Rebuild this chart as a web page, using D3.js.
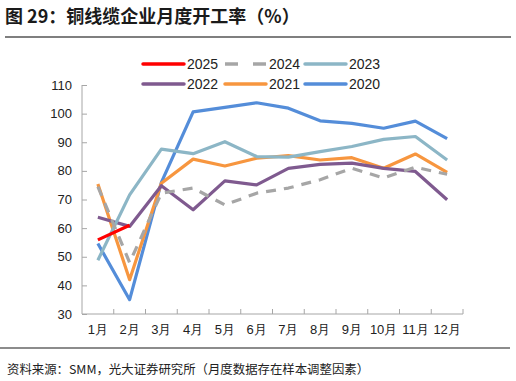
<!DOCTYPE html>
<html lang="zh">
<head>
<meta charset="UTF-8">
<script src="https://d3js.org/d3.v7.min.js"></script>
<style>
  body { margin: 0; background: #fff; }
  svg { display: block; }
</style>
</head>
<body>
<svg id="chart" width="516" height="381"></svg>
<script>
// data
const months = ["1月", "2月", "3月", "4月", "5月", "6月", "7月", "8月", "9月", "10月", "11月", "12月"];
const yTicks = [30, 40, 50, 60, 70, 80, 90, 100, 110];

const y2025 = [55.9, 61.0];
const y2024 = [74.5, 48.0, 72.2, 74.0, 68.1, 72.2, 74.0, 76.9, 80.9, 77.5, 81.3, 78.8];
const y2023 = [48.8, 71.6, 87.6, 86.0, 90.2, 85.0, 84.8, 86.7, 88.5, 91.0, 92.0, 83.8];
const y2022 = [63.8, 60.6, 74.8, 66.4, 76.5, 75.1, 80.9, 82.3, 82.7, 80.9, 79.8, 69.9];
const y2021 = [75.4, 42.0, 75.7, 84.1, 81.7, 84.4, 85.3, 83.8, 84.6, 80.9, 85.9, 79.5];
const y2020 = [54.6, 35.0, 76.0, 100.6, 102.2, 103.8, 101.9, 97.5, 96.6, 94.9, 97.4, 91.3];

const series = [
  { name: "2025", values: y2025, color: "#ff0000", dash: null },
  { name: "2024", values: y2024, color: "#a6a6a6", dash: "10,8" },
  { name: "2023", values: y2023, color: "#8cb6c6", dash: null },
  { name: "2022", values: y2022, color: "#7f5a8f", dash: null },
  { name: "2021", values: y2021, color: "#f7963f", dash: null },
  { name: "2020", values: y2020, color: "#548dd9", dash: null }
];

const svg = d3.select("#chart");
const latin = "'Liberation Sans', Arial, sans-serif";
const cjk = "'Noto Sans CJK SC', 'Noto Sans', sans-serif";

// title and rules
svg.append("text")
  .attr("x", 5).attr("y", 23)
  .attr("font-family", cjk).attr("font-weight", "bold").attr("font-size", 18)
  .attr("fill", "#1a1a1a")
  .text("图 29：铜线缆企业月度开工率（%）");
svg.append("line").attr("x1", 5).attr("x2", 511).attr("y1", 37).attr("y2", 37)
  .attr("stroke", "#555").attr("stroke-width", 1.5);
svg.append("line").attr("x1", 0).attr("x2", 510).attr("y1", 348).attr("y2", 348)
  .attr("stroke", "#666").attr("stroke-width", 1.5);
svg.append("text")
  .attr("x", 7).attr("y", 374)
  .attr("font-family", cjk).attr("font-size", 12.4)
  .attr("fill", "#222")
  .text("资料来源：SMM，光大证券研究所（月度数据存在样本调整因素）");

// scales
const x = d3.scaleBand().domain(months).range([82, 463]);
const y = d3.scaleLinear().domain([30, 110]).range([314, 85]);
const xc = m => x(m) + x.bandwidth() / 2;

// axes
const axisColor = "#a6a6a6";
const yAxis = svg.append("g").attr("transform", "translate(82,0)")
  .call(d3.axisRight(y).tickValues(yTicks).tickSize(5).tickFormat(""));
yAxis.selectAll("path, line").attr("stroke", axisColor);
yAxis.select(".domain").attr("d", `M0,${y(110)}V${y(30)}`);

svg.selectAll(".ylab").data(yTicks).enter().append("text")
  .attr("class", "ylab")
  .attr("x", 72).attr("y", d => y(d) + 4.5)
  .attr("text-anchor", "end")
  .attr("font-family", latin).attr("font-size", 13).attr("fill", "#222")
  .text(d => d);

const xAxis = svg.append("g").attr("transform", `translate(0,${y(30)})`)
  .call(d3.axisTop(x).tickSize(0).tickFormat(""));
xAxis.select(".domain").attr("stroke", axisColor).attr("d", "M82,0H463");
const bounds = months.map(m => x(m) + x.bandwidth());
xAxis.selectAll(".btick").data(bounds).enter().append("line")
  .attr("class", "btick")
  .attr("x1", d => d).attr("x2", d => d).attr("y1", 0).attr("y2", -5)
  .attr("stroke", axisColor);

svg.selectAll(".xlab").data(months).enter().append("text")
  .attr("class", "xlab")
  .attr("x", d => xc(d)).attr("y", 334)
  .attr("text-anchor", "middle")
  .attr("font-family", latin).attr("font-size", 13).attr("fill", "#222")
  .text(d => d);

// lines, drawn 2020 first so 2025 sits on top
const line = d3.line()
  .x((d, i) => xc(months[i]))
  .y(d => y(d));

series.slice().reverse().forEach(s => {
  svg.append("path")
    .datum(s.values)
    .attr("d", line)
    .attr("fill", "none")
    .attr("stroke", s.color)
    .attr("stroke-width", 3.2)
    .attr("stroke-linejoin", "round")
    .attr("stroke-dasharray", s.dash);
});

// legend
const legX = [143, 225, 305];
const legY = [64, 84];
const leg = svg.selectAll(".leg").data(series).enter().append("g")
  .attr("class", "leg")
  .attr("transform", (d, i) => `translate(${legX[i % 3]},${legY[Math.floor(i / 3)]})`);
leg.append("line")
  .attr("x1", 0).attr("x2", 41).attr("y1", 0).attr("y2", 0)
  .attr("stroke", d => d.color).attr("stroke-width", 3.5)
  .attr("stroke-linecap", d => d.dash ? "butt" : "round")
  .attr("stroke-dasharray", d => d.dash ? "13,15" : null);
leg.append("text")
  .attr("x", 44).attr("y", 5)
  .attr("font-family", latin).attr("font-size", 14).attr("fill", "#222")
  .text(d => d.name);
</script>
</body>
</html>
